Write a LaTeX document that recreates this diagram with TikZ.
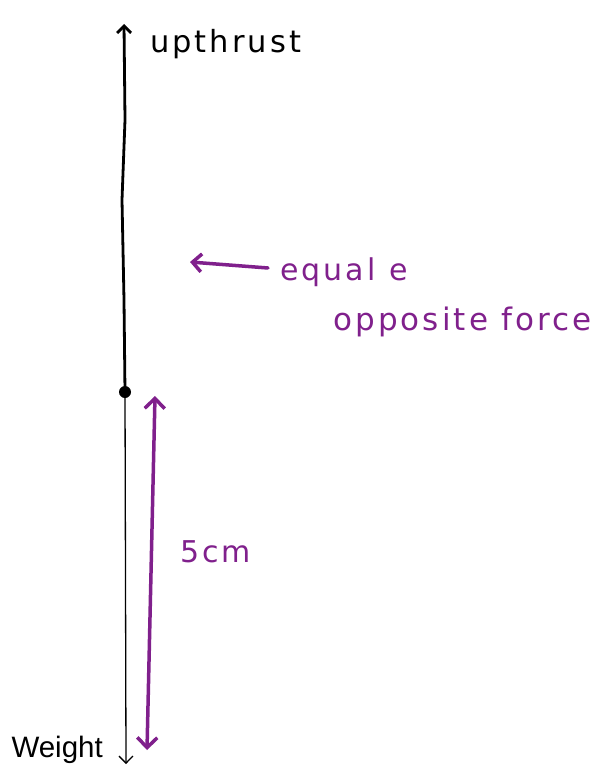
\documentclass[tikz,border=0pt]{standalone}
\usepackage{fontspec}
\setmainfont{Liberation Sans}
\newfontfamily\handfont[LetterSpace=10]{DejaVu Sans}
\usetikzlibrary{arrows.meta}
\definecolor{pen}{RGB}{128,32,140}
\tikzset{
  hand/.style={font=\handfont\fontsize{30}{30}\selectfont, inner sep=0pt},
  penline/.style={draw=pen, line width=3.5pt, line cap=round},
}
\begin{document}
\begin{tikzpicture}[x=1pt,y=-1pt]
\useasboundingbox (0,0) rectangle (604,776);
% main force line
\node[circle, fill=black, minimum size=12pt, inner sep=0pt] (dot) at (125,392) {};
\coordinate (top) at (124,24);
\coordinate (bot) at (126,764);
\draw[line width=2.8pt, -{Straight Barb[length=7pt,width=14pt]}, line cap=round] (dot.center) -- (124,300) -- (122,200) -- (125,120) -- (top);
\draw[line width=1.3pt, -{Straight Barb[length=7pt,width=14pt]}] (dot.center) -- (bot);
\node[anchor=west, inner sep=0pt, font=\handfont\fontsize{30.5}{30.5}\selectfont] (up) at (150,44) {upthrust};
\node[font=\fontsize{29.5}{29.5}\selectfont, anchor=east, inner sep=0pt] (wt) at (103,750) {Weight};
% purple annotations
\coordinate (pa1) at (268,268);
\coordinate (pa2) at (190,262);
\draw[penline, -{Straight Barb[length=9pt,width=18pt]}] (pa1) -- (pa2);
\node[hand, text=pen, anchor=west] (eq) at (280,272) {equal\hspace{14pt}e};
\node[hand, text=pen, anchor=west, font=\handfont\fontsize{31}{31}\selectfont] (opp) at (333,322) {opposite force};
\coordinate (d1) at (155,396);
\coordinate (d2) at (147,750);
\draw[penline, {Straight Barb[length=10pt,width=20pt]}-{Straight Barb[length=10pt,width=20pt]}] (d1) -- (d2);
\node[hand, text=pen, anchor=west] (cm) at (180,552) {5cm};
\end{tikzpicture}
\end{document}
